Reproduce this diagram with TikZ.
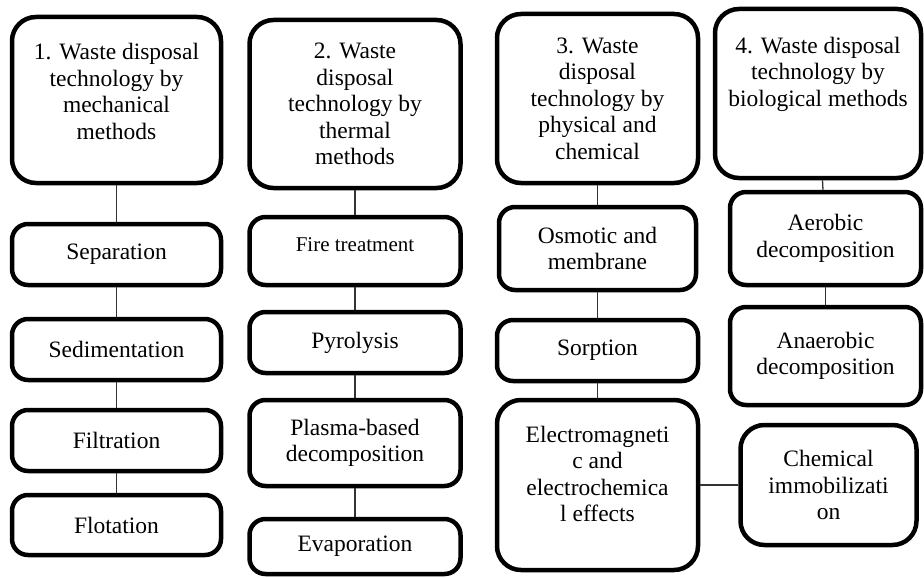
\documentclass[tikz,border=0pt]{standalone}
\usepackage{fontspec}
\setmainfont{Liberation Serif}
\usetikzlibrary{positioning}

% zero-width strut that lowers the box floor
\newcommand{\padbelow}[1]{\rule[-#1]{0pt}{0pt}}

\begin{document}
\begin{tikzpicture}[x=1pt, y=1pt, font=\fontsize{23.5}{26.5}\selectfont]
\tikzstyle{head} = [rectangle, draw, line width=4.5pt, rounded corners=24pt, align=center, inner sep=2pt]
\tikzstyle{block} = [rectangle, draw, line width=4.5pt, rounded corners=16pt, align=center, inner sep=2pt]
\tikzstyle{link} = [line width=1.3pt, black!80]

\useasboundingbox (0,0) rectangle (924,-578);

% headers
\node [head, minimum width=209pt, minimum height=166pt] (mech) at (116.5,-100) {1. Waste disposal\\technology by\\mechanical\\methods\padbelow{17pt}};
\node [head, minimum width=211pt, minimum height=168pt] (therm) at (355,-104) {2. Waste\\disposal\\technology by\\thermal\\methods};
\node [head, minimum width=201pt, minimum height=169pt] (phys) at (597.5,-98.5) {3. Waste\\disposal\\technology by\\physical and\\chemical};
\node [head, minimum width=206pt, minimum height=169pt] (bio) at (818,-93.5) {4. Waste disposal\\technology by\\biological methods\padbelow{44pt}};

% mechanical methods
\node [block, minimum width=209pt, minimum height=61pt, below of=mech, node distance=154.5pt] (sep) {Separation};
\node [block, minimum width=209pt, minimum height=61pt, below of=sep, node distance=95pt] (sed) {Sedimentation};
\node [block, minimum width=209pt, minimum height=61pt, below of=sed, node distance=91pt] (filt) {Filtration};
\node [block, minimum width=209pt, minimum height=60pt, below of=filt, node distance=84.5pt] (flot) {Flotation};

% thermal methods
\node [block, minimum width=211pt, minimum height=68pt, below of=therm, node distance=147pt, font=\fontsize{21}{25}\selectfont] (fire) {Fire treatment\padbelow{12pt}};
\node [block, minimum width=211pt, minimum height=61pt, below of=fire, node distance=91.5pt] (pyro) {Pyrolysis};
\node [block, minimum width=211pt, minimum height=86pt, below of=pyro, node distance=100.5pt] (plasma) {Plasma-based\\decomposition};
\node [block, minimum width=211pt, minimum height=55pt, below of=plasma, node distance=103.5pt] (evap) {Evaporation};

% physical and chemical methods
\node [block, minimum width=197pt, minimum height=83pt, below of=phys, node distance=150pt] (osmo) {Osmotic and\\membrane};
\node [block, minimum width=201pt, minimum height=61pt, below of=osmo, node distance=102pt] (sorp) {Sorption};
\node [head, minimum width=201pt, minimum height=170pt, below of=sorp, node distance=134.5pt] (elec) {Electromagneti\\c and\\electrochemica\\l effects\padbelow{22pt}};
\node [head, minimum width=176pt, minimum height=120pt, right of=elec, node distance=231pt] (immo) {Chemical\\immobilizati\\on};

% biological methods
\node [block, minimum width=191pt, minimum height=93pt, below of=bio, node distance=145pt, xshift=7.5pt] (aero) {Aerobic\\decomposition};
\node [block, minimum width=191pt, minimum height=98pt, below of=aero, node distance=117.5pt] (anae) {Anaerobic\\decomposition};

\draw [link] (mech) -- (sep);
\draw [link] (sep) -- (sed);
\draw [link] (sed) -- (filt);
\draw [link] (filt) -- (flot);
\draw [link] (therm) -- (fire);
\draw [link] (fire) -- (pyro);
\draw [link] (pyro) -- (plasma);
\draw [link] (plasma) -- (evap);
\draw [link] (phys) -- (osmo);
\draw [link] (osmo) -- (sorp);
\draw [link] (sorp) -- (elec);
\draw [link] (elec) -- (immo);
\draw [link] (bio) -- (aero);
\draw [link] (aero) -- (anae);

\end{tikzpicture}
\end{document}
